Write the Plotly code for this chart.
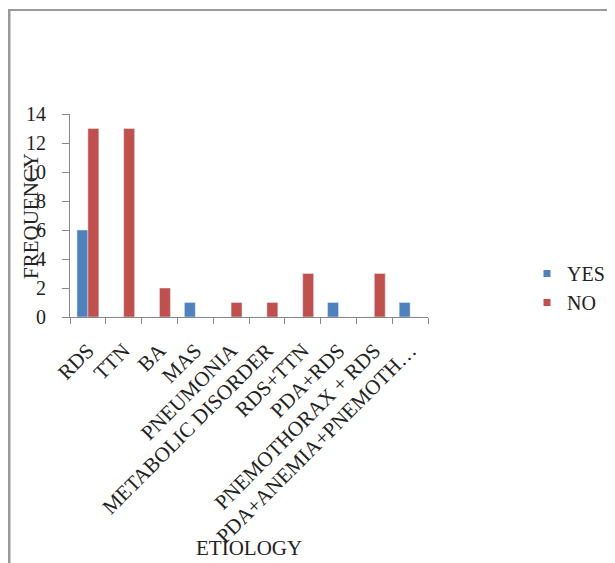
import plotly.graph_objects as go

categories = ["RDS", "TTN", "BA", "MAS", "PNEUMONIA", "METABOLIC DISORDER",
              "RDS+TTN", "PDA+RDS", "PNEMOTHORAX + RDS", "PDA+ANEMIA+PNEMOTH…"]
yes_values = [6, 0, 0, 1, 0, 0, 0, 1, 0, 1]
no_values = [13, 13, 2, 0, 1, 1, 3, 0, 3, 0]
y_ticks = [0, 2, 4, 6, 8, 10, 12, 14]

FONT = "Liberation Serif, Times New Roman, serif"
BLUE, RED = "#4F81BD", "#C0504D"

# page body has an 8px margin; work in screen coords and convert
OFF = 8
W, H = 615 - OFF, 563 - OFF
L, R, T, B = 70 - OFF, 615 - 428, 114 - OFF, 563 - 317
pw, ph = W - L - R, H - T - B


def px(xs):
    return (xs - OFF - L) / pw


def py(ys):
    return (H - B - (ys - OFF)) / ph


fig = go.Figure()
fig.add_trace(go.Bar(name="YES", x=categories, y=yes_values, marker_color=BLUE,
                     showlegend=False))
fig.add_trace(go.Bar(name="NO", x=categories, y=no_values, marker_color=RED,
                     showlegend=False))
# legend entries with small square swatches
fig.add_trace(go.Scatter(name="YES", x=[None], y=[None], mode="markers",
                         marker=dict(symbol="square", size=7, color=BLUE),
                         legendgroup="a"))
fig.add_trace(go.Scatter(name="NO", x=[None], y=[None], mode="markers",
                         marker=dict(symbol="square", size=7, color=RED),
                         legendgroup="b"))

fig.update_layout(
    width=W, height=H,
    margin=dict(l=L, r=R, t=T, b=B, autoexpand=False),
    paper_bgcolor="white", plot_bgcolor="white",
    font=dict(family=FONT, color="#222", size=20),
    barmode="group", bargap=0.39, bargroupgap=0,
    showlegend=True,
    legend=dict(x=px(527), y=py(254), xanchor="left", yanchor="top",
                font=dict(size=20, family=FONT), tracegroupgap=0,
                bgcolor="rgba(0,0,0,0)"),
    xaxis=dict(showline=True, linecolor="#888", linewidth=1, ticks="outside",
               tickson="boundaries", ticklen=6, tickcolor="#888", tickangle=-45,
               ticklabelstandoff=12,
               tickfont=dict(size=21, family=FONT), showgrid=False),
    yaxis=dict(range=[0, 14], tickvals=y_ticks, showline=True, linecolor="#888",
               linewidth=1, ticks="outside", ticklen=7, tickcolor="#888",
               ticklabelstandoff=12,
               tickfont=dict(size=20, family=FONT), showgrid=False, zeroline=False),
    annotations=[
        dict(text="FREQUENCY", x=px(31), y=py(216), xref="paper", yref="paper",
             xanchor="center", yanchor="middle",
             textangle=-90, showarrow=False, font=dict(size=21, family=FONT)),
        dict(text="ETIOLOGY", x=px(249), y=py(548), xref="paper", yref="paper",
             xanchor="center", yanchor="middle",
             showarrow=False, font=dict(size=21, family=FONT)),
    ],
    shapes=[
        dict(type="line", xref="paper", yref="paper", x0=px(8), x1=px(630),
             y0=py(10), y1=py(10), line=dict(color="#999", width=2)),
        dict(type="line", xref="paper", yref="paper", x0=px(9), x1=px(9),
             y0=py(9), y1=py(580), line=dict(color="#999", width=3)),
    ],
)

fig.write_html("out.html")
